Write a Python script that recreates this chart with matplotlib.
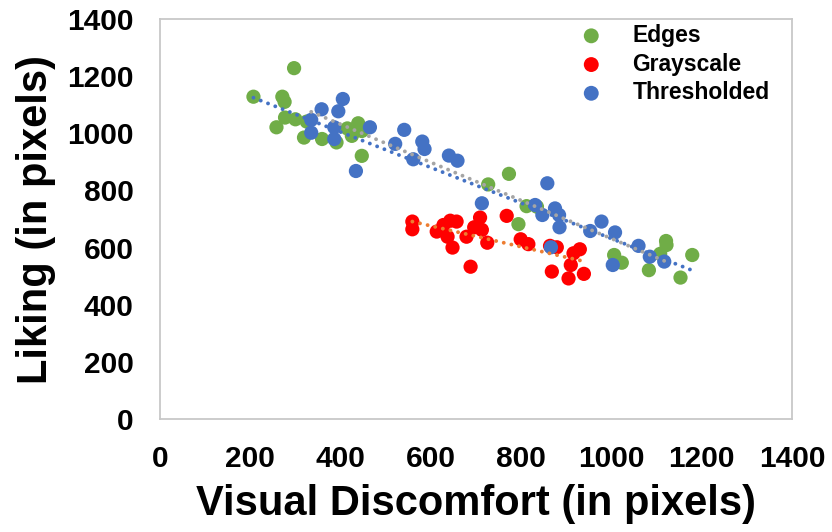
import matplotlib
matplotlib.use('Agg')
import matplotlib.pyplot as plt
import numpy as np

plt.rcParams['font.family'] = ['Liberation Sans', 'DejaVu Sans']
plt.rcParams['font.weight'] = 'bold'

# Edges
edges_x = [207, 297, 271, 276, 277, 300, 258, 325, 319, 359, 391, 415, 439, 425, 447, 447,
           773, 727, 812, 835, 794, 1121, 1122, 1179, 1006, 1023, 1083, 1153, 1108]
edges_y = [1128, 1228, 1128, 1110, 1055, 1049, 1021, 1041, 985, 980, 968, 1017, 1035, 991, 1008, 921,
           858, 821, 745, 743, 682, 623, 609, 574, 574, 547, 521, 495, 578]

# Grayscale
gray_x = [559, 559, 613, 628, 643, 657, 637, 648, 679, 696, 709, 713, 725, 688, 768, 799, 816,
          864, 879, 868, 905, 939, 910, 916, 930]
gray_y = [691, 664, 656, 679, 694, 691, 638, 600, 638, 671, 705, 662, 617, 533, 711, 629, 612,
          606, 601, 516, 492, 508, 539, 580, 594]

# Thresholded
thr_x = [405, 358, 395, 335, 335, 386, 386, 465, 434, 541, 521, 581, 586, 561, 640, 659, 858,
         713, 831, 847, 875, 884, 885, 978, 1008, 953, 866, 1060, 1085, 1117, 1003]
thr_y = [1120, 1084, 1077, 1047, 1002, 1021, 980, 1021, 868, 1012, 963, 971, 945, 909, 922, 904, 825,
         755, 749, 714, 737, 714, 671, 691, 653, 658, 601, 606, 568, 551, 539]

ticks = [0, 200, 400, 600, 800, 1000, 1200, 1400]

fig = plt.figure(figsize=(8.32, 5.32), dpi=100)
ax = fig.add_axes([160 / 832, 1 - 419 / 532, 632 / 832, 400 / 532])

series = [
    ('Edges', edges_x, edges_y, '#70AD47', '#4472C4'),
    ('Grayscale', gray_x, gray_y, '#FF0000', '#ED7D31'),
    ('Thresholded', thr_x, thr_y, '#4472C4', '#A5A5A5'),
]

for name, xs, ys, color, trend_color in series:
    ax.scatter(xs, ys, s=105, color=color, edgecolors='none', label=name, zorder=2)

# linear trendlines over each series' x range, drawn above the markers
for name, xs, ys, color, trend_color in series:
    slope, intercept = np.polyfit(xs, ys, 1)
    tx = np.array([min(xs), max(xs)])
    ax.plot(tx, slope * tx + intercept, color=trend_color, lw=2.8,
            linestyle=(0, (0.01, 2.0)), dash_capstyle='round', zorder=3)

ax.set_xlim(0, 1400)
ax.set_ylim(0, 1400)
ax.set_xticks(ticks)
ax.set_yticks(ticks)
ax.tick_params(length=0, labelsize=21.5, pad=19)
for lbl in ax.get_xticklabels() + ax.get_yticklabels():
    lbl.set_fontweight('bold')

for sp in ax.spines.values():
    sp.set_color('#C8C8C8')
    sp.set_linewidth(1.3)

ax.set_xlabel('Visual Discomfort (in pixels)', fontsize=30, fontweight='bold', labelpad=8)
ax.set_ylabel('Liking (in pixels)', fontsize=30, fontweight='bold', labelpad=8)

leg = ax.legend(loc='upper right', bbox_to_anchor=(0.99, 1.028), frameon=False,
                prop={'size': 16.5, 'weight': 'bold'}, handletextpad=0.8,
                labelspacing=0.25, borderaxespad=0.3, scatterpoints=1)
for h in leg.legend_handles:
    h.set_sizes([115])

fig.savefig('out.png', dpi=100)
